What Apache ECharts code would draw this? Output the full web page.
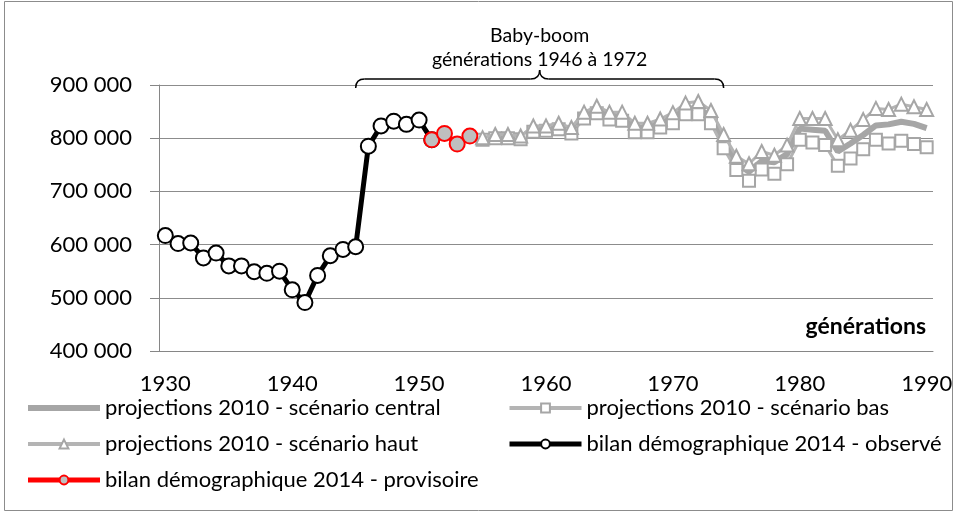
<!DOCTYPE html>
<html>
<head>
<meta charset="utf-8">
<script src="https://cdn.jsdelivr.net/npm/echarts@6.0.0/dist/echarts.min.js"></script>
<style>
  html, body { margin: 0; padding: 0; background: #fff; }
  #chart { width: 957px; height: 513px; }
</style>
</head>
<body>
<div id="chart"></div>
<script>
// catégories (générations)
var years = ['1930','1931','1932','1933','1934','1935','1936','1937','1938','1939',
  '1940','1941','1942','1943','1944','1945','1946','1947','1948','1949',
  '1950','1951','1952','1953','1954','1955','1956','1957','1958','1959',
  '1960','1961','1962','1963','1964','1965','1966','1967','1968','1969',
  '1970','1971','1972','1973','1974','1975','1976','1977','1978','1979',
  '1980','1981','1982','1983','1984','1985','1986','1987','1988','1989','1990']

// bilan démographique 2014 - observé (1930 -> 1951)
var observe = [617000, 602000, 603000, 575000, 584000, 560000, 560000, 549000, 546000, 550000,
  515000, 491000, 542000, 579000, 591000, 596000, 785000, 823000, 832000, 826000, 834000, 797000]
// bilan démographique 2014 - provisoire (1951 -> 1954)
var provisoire = [797000, 809000, 789000, 804000]
// projections 2010 (1955 -> 1990)
var central = [799000, 803000, 803000, 801000, 817000, 818000, 822000, 815000, 842000, 853000,
  841000, 841000, 820000, 820000, 827000, 838000, 855000, 857000, 840000, 795000,
  753000, 737000, 757000, 755000, 770000, 818000, 816000, 814000, 775000, 790000,
  806000, 824000, 826000, 831000, 827000, 819000]
var bas = [797000, 800000, 800000, 798000, 812000, 814000, 817000, 809000, 837000, 847000,
  835000, 833000, 811000, 811000, 820000, 828000, 845000, 845000, 828000, 781000,
  740000, 720000, 741000, 733000, 751000, 797000, 792000, 787000, 748000, 762000,
  779000, 797000, 790000, 795000, 789000, 783000]
var haut = [801000, 807000, 807000, 804000, 823000, 823000, 828000, 820000, 849000, 860000,
  849000, 849000, 828000, 828000, 836000, 848000, 866000, 869000, 852000, 807000,
  766000, 752000, 775000, 768000, 787000, 837000, 837000, 837000, 797000, 815000,
  835000, 856000, 854000, 864000, 859000, 854000]

var yMin = 400000, yMax = 900000, yStep = 100000

function fromYear(start, values) {
    var i0 = years.indexOf(start)
    return values.map(function (v, i) { return [years[i0 + i], v] })
}

var font = 'Lato, "Open Sans", sans-serif'
var gris = '#a6a6a6'
var legendText = { fontSize: 22, fontFamily: font, color: '#000' }

var chart = echarts.init(document.getElementById('chart'))
chart.setOption({
    animation: false,
    grid: { left: 159, right: 24, top: 85, bottom: 162 },
    xAxis: {
        type: 'category',
        data: years,
        boundaryGap: true,
        axisLine: { lineStyle: { color: '#868686', width: 1 } },
        axisTick: { interval: 9, length: 8, lineStyle: { color: '#868686' } },
        axisLabel: { interval: 9, margin: 22, color: '#000', fontSize: 22, fontFamily: font },
        splitLine: { show: false }
    },
    yAxis: {
        type: 'value',
        min: yMin,
        max: yMax,
        interval: yStep,
        axisLine: { show: true, lineStyle: { color: '#868686', width: 1 } },
        axisTick: { show: true, length: 9, lineStyle: { color: '#868686' } },
        axisLabel: {
            margin: 27, color: '#000', fontSize: 22, fontFamily: font,
            formatter: function (v) { return String(v).replace(/\B(?=(\d{3})+(?!\d))/g, ' ') }
        },
        splitLine: { lineStyle: { color: '#8c8c8c', width: 1 } }
    },
    legend: [{
        orient: 'vertical', left: 20, top: 392, itemWidth: 72, itemHeight: 11, itemGap: 14,
        textStyle: legendText,
        data: [
            { name: 'projections 2010 - scénario central', itemStyle: { opacity: 0 }, lineStyle: { width: 6 } },
            { name: 'projections 2010 - scénario haut', lineStyle: { width: 4 } },
            { name: 'bilan démographique 2014 - provisoire', lineStyle: { width: 5 } }
        ]
    }, {
        orient: 'vertical', left: 502, top: 392, itemWidth: 72, itemHeight: 11, itemGap: 14,
        textStyle: legendText,
        data: [
            { name: 'projections 2010 - scénario bas', lineStyle: { width: 4 } },
            { name: 'bilan démographique 2014 - observé', lineStyle: { width: 5 } }
        ]
    }],
    series: [{
        name: 'projections 2010 - scénario central',
        type: 'line',
        data: fromYear('1955', central),
        symbol: 'none',
        lineStyle: { color: gris, width: 6 },
        itemStyle: { color: gris },
        z: 2
    }, {
        name: 'projections 2010 - scénario bas',
        type: 'line',
        data: fromYear('1955', bas),
        symbol: 'rect',
        symbolSize: 12,
        showAllSymbol: true,
        lineStyle: { color: '#b4b4b4', width: 3 },
        itemStyle: { color: '#fff', borderColor: gris, borderWidth: 2 },
        z: 3
    }, {
        name: 'projections 2010 - scénario haut',
        type: 'line',
        data: fromYear('1955', haut),
        symbol: 'triangle',
        symbolSize: 13,
        showAllSymbol: true,
        lineStyle: { color: '#b4b4b4', width: 3 },
        itemStyle: { color: '#fff', borderColor: gris, borderWidth: 2 },
        z: 4
    }, {
        name: 'bilan démographique 2014 - observé',
        type: 'line',
        data: fromYear('1930', observe),
        symbol: 'circle',
        symbolSize: 15,
        showAllSymbol: true,
        lineStyle: { color: '#000', width: 5 },
        itemStyle: { color: '#fff', borderColor: '#000', borderWidth: 2 },
        z: 5
    }, {
        name: 'bilan démographique 2014 - provisoire',
        type: 'line',
        data: fromYear('1951', provisoire),
        symbol: 'circle',
        symbolSize: 15,
        showAllSymbol: true,
        lineStyle: { color: '#ff0000', width: 5 },
        itemStyle: { color: '#bfbfbf', borderColor: '#ff0000', borderWidth: 2 },
        z: 6
    }]
})

// accolade "Baby-boom" au-dessus de la zone du graphique
var x1 = chart.convertToPixel({ xAxisIndex: 0 }, '1945')
var x2 = chart.convertToPixel({ xAxisIndex: 0 }, '1974')
var xm = (x1 + x2) / 2
var yb = chart.convertToPixel({ yAxisIndex: 0 }, yMax)
var yh = yb - 6, yp = yb - 15, r = 9
var braceStyle = { fill: 'none', stroke: '#000', lineWidth: 1.5 }
function curve(ax, ay, cx, cy, bx, by) {
    return { type: 'bezierCurve', z: 10, shape: { x1: ax, y1: ay, cpx1: cx, cpy1: cy, x2: bx, y2: by }, style: braceStyle }
}
function seg(ax, ay, bx, by) {
    return { type: 'line', z: 10, shape: { x1: ax, y1: ay, x2: bx, y2: by }, style: braceStyle }
}

chart.setOption({
    graphic: [
        { type: 'rect', shape: { x: 4.5, y: 1.5, width: 948, height: 509 },
          style: { fill: 'none', stroke: '#8c8c8c', lineWidth: 1 }, silent: true },
        curve(x1, yb + 3, x1, yh, x1 + r, yh),
        seg(x1 + r, yh, xm - r, yh),
        curve(xm - r, yh, xm, yh, xm, yp),
        curve(xm, yp, xm, yh, xm + r, yh),
        seg(xm + r, yh, x2 - r, yh),
        curve(x2 - r, yh, x2, yh, x2, yb + 3),
        { type: 'text', x: xm, y: 36,
          style: { text: 'Baby-boom', fontSize: 19.5, fontFamily: font, fill: '#000', align: 'center', verticalAlign: 'middle' } },
        { type: 'text', x: xm, y: 60,
          style: { text: 'générations 1946 à 1972', fontSize: 19.5, fontFamily: font, fill: '#000', align: 'center', verticalAlign: 'middle' } },
        { type: 'text', x: 926, y: 327,
          style: { text: 'générations', fontSize: 23, fontWeight: 'bold', fontFamily: font, fill: '#000', align: 'right', verticalAlign: 'middle' } }
    ]
})
</script>
</body>
</html>
